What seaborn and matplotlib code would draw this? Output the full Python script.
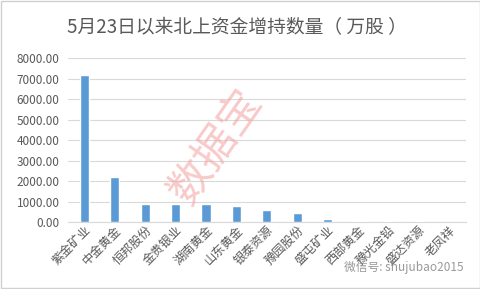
import matplotlib
matplotlib.use("Agg")
import matplotlib.pyplot as plt
import seaborn as sns
import pandas as pd
from matplotlib.ticker import FuncFormatter, MultipleLocator
from matplotlib.patches import Rectangle

stocks = ["紫金矿业", "中金黄金", "恒邦股份", "金贵银业", "湖南黄金", "山东黄金", "银泰资源",
          "豫园股份", "盛屯矿业", "西部黄金", "豫光金铅", "盛达资源", "老凤祥"]
values = [7170, 2200, 910, 870, 870, 810, 610, 460, 170, 50, 50, 50, 10]
title = "5月23日以来北上资金增持数量（ 万股 ）"

sns.set_theme(style="white")
plt.rcParams["font.family"] = ["Noto Sans CJK SC", "DejaVu Sans"]

df = pd.DataFrame({"stock": stocks, "value": values})

fig = plt.figure(figsize=(4.81, 2.89), dpi=100)
ax = fig.add_axes([0.141, 0.231, 0.827, 0.567])
sns.barplot(data=df, x="stock", y="value", color="#5B9BD5", width=0.3,
            saturation=1, ax=ax, zorder=3)
ax.set_ylim(0, 8000)
ax.yaxis.set_major_locator(MultipleLocator(1000))
ax.yaxis.set_major_formatter(FuncFormatter(lambda v, p: f"{v:.2f}"))
ax.grid(axis="y", color="#D9D9D9", linewidth=0.8, zorder=0)
ax.set_axisbelow(True)
for s in ["top", "right", "left"]:
    ax.spines[s].set_visible(False)
ax.spines["bottom"].set_color("#D9D9D9")
ax.spines["bottom"].set_linewidth(0.8)
ax.set_xlabel("")
ax.set_ylabel("")
ax.tick_params(axis="y", labelsize=8.5, colors="#595959", length=0, pad=6)
ax.tick_params(axis="x", labelsize=8.8, colors="#595959", length=0, pad=1)
plt.setp(ax.get_xticklabels(), rotation=45, ha="right", rotation_mode="anchor")
ax.set_xlim(-0.55, len(stocks) - 0.45)

fig.text(0.492, 0.905, title, ha="center", va="center", fontsize=13.5, color="#595959")
fig.text(0.45, 0.49, "数据宝", ha="center", va="center", fontsize=31,
         color="#F4A6A6", alpha=0.6, rotation=55)
fig.text(0.84, 0.075, "微信号: shujubao2015", ha="center", va="center",
         fontsize=8.5, color="#808080", alpha=0.8)
fig.patches.append(Rectangle((0.003, 0.003), 0.994, 0.994, transform=fig.transFigure,
                             fill=False, edgecolor="#D0D0D0", linewidth=1))
fig.savefig("out.png", dpi=100)
